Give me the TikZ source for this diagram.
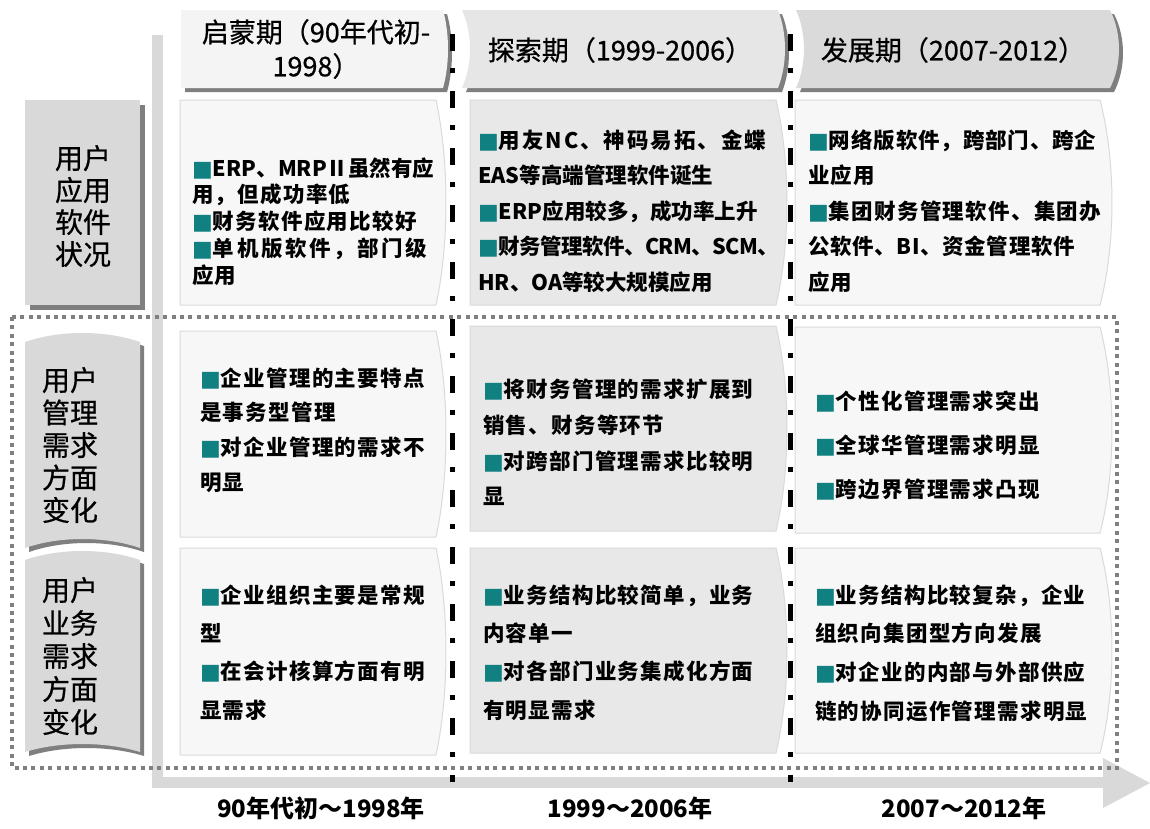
\documentclass[tikz,border=0pt]{standalone}
\usepackage{fontspec}
\newfontfamily\cjk{Noto Sans CJK SC}
\newfontfamily\sym{DejaVu Sans}
\definecolor{hA}{HTML}{F4F4F4}
\definecolor{hB}{HTML}{E6E6E6}
\definecolor{hC}{HTML}{DADADA}
\definecolor{shd}{HTML}{7F7F7F}
\definecolor{cA}{HTML}{F7F7F7}
\definecolor{cB}{HTML}{E8E8E8}
\definecolor{cline}{HTML}{DADADA}
\definecolor{lab}{HTML}{D9D9D9}
\definecolor{axisc}{HTML}{D9D9D9}
\definecolor{dotc}{HTML}{808080}
\definecolor{bul}{HTML}{108080}
% chevron: x1,y1,x2,y2,bulge,notch
\newcommand\chevpath[6]{(#1,#2) -- (#3,#2) .. controls ({#3+1.33*#5},{#2+0.3*(#4-#2)}) and ({#3+1.33*#5},{#4-0.3*(#4-#2)}) .. (#3,#4) -- (#1,#4) .. controls ({#1+1.33*#6},{#4-0.3*(#4-#2)}) and ({#1+1.33*#6},{#2+0.3*(#4-#2)}) .. (#1,#2) -- cycle}
% ribbon: x1,x2,ytop-side,ytop-mid,ybot-side,ybot-mid
\newcommand\ribpath[6]{(#1,#3) .. controls ({#1+0.3*(#2-#1)},{#4-(#3-#4)/3}) and ({#2-0.3*(#2-#1)},{#4-(#3-#4)/3}) .. (#2,#3) -- (#2,#5) .. controls ({#2-0.3*(#2-#1)},{#6-(#5-#6)/3}) and ({#1+0.3*(#2-#1)},{#6-(#5-#6)/3}) .. (#1,#5) -- cycle}
\newcommand\bu{{\sym\fontsize{22}{22}\selectfont\color{bul}■}}
\newcommand\nols[1]{{\addfontfeature{LetterSpace=0}#1}}
\newcommand\wls[2]{{\addfontfeature{LetterSpace=#1}#2}}
\tikzset{
  ct/.style={font=\cjk\bfseries\fontsize{21.5}{#1}\selectfont\addfontfeature{LetterSpace=6}, align=left, inner sep=0pt, anchor=west},
  ht/.style={font=\cjk\fontsize{27}{34}\selectfont\addfontfeature{FakeBold=0.6}, align=center, inner sep=0pt},
  lt/.style={font=\cjk\fontsize{28}{#1}\selectfont\addfontfeature{FakeBold=0.6}, align=center, inner sep=0pt},
  bt/.style={font=\cjk\bfseries\fontsize{24}{24}\selectfont, inner sep=0pt},
  cellA/.style={fill=cA, draw=cline, line width=1pt},
  cellB/.style={fill=cB, draw=cline, line width=1pt},
  sh/.style={fill=shd, shift={(4,4)}},
  dashdotline/.style={line width=5pt, black, dash pattern=on 17pt off 17pt on 5pt off 18pt},
  dotbox/.style={line width=4pt, dotc, dash pattern=on 4pt off 4.4pt},
}
\begin{document}
\begin{tikzpicture}[x=1pt,y=-1pt]
\useasboundingbox[fill=white] (0,0) rectangle (1150,828);
% axis
\fill[axisc] (152,35) rectangle (163,788);
\fill[axisc] (152,777) rectangle (1104,788);
\fill[axisc] (1103,758) -- (1150,783) -- (1103,808) -- cycle;
% left labels
\fill[shd] (30,105) rectangle (145,310);
\fill[lab] (25,100) rectangle (140,305);
\fill[sh] \ribpath{25}{140}{342}{333}{548}{539};
\fill[lab] \ribpath{25}{140}{342}{333}{548}{539};
\fill[sh] \ribpath{25}{140}{560}{551}{752}{744};
\fill[lab] \ribpath{25}{140}{560}{551}{752}{744};
% headers
\fill[sh] \chevpath{181}{10}{443}{88}{5}{0};
\fill[hA] \chevpath{181}{10}{443}{88}{5}{0};
\fill[sh] \chevpath{462}{10}{778}{88}{7}{8};
\fill[hB] \chevpath{462}{10}{778}{88}{7}{8};
\fill[sh] \chevpath{796}{10}{1110}{88}{9}{8};
\fill[hC] \chevpath{796}{10}{1110}{88}{9}{8};
% cells
\path[cellA] \chevpath{180}{100}{436}{305}{10}{0};
\path[cellB] \chevpath{470}{100}{776}{305}{11}{0};
\path[cellA] \chevpath{795}{100}{1100}{305}{12}{0};
\path[cellA] \chevpath{180}{331}{436}{537}{10}{0};
\path[cellB] \chevpath{470}{326}{776}{531}{11}{0};
\path[cellA] \chevpath{795}{327}{1100}{533}{12}{0};
\path[cellA] \chevpath{180}{548}{436}{755}{10}{0};
\path[cellB] \chevpath{470}{548}{776}{753}{11}{0};
\path[cellA] \chevpath{795}{548}{1100}{753}{12}{0};
% dotted frame
\draw[dotbox] (12,317) rectangle (1117,768);
% dash-dot separators
\coordinate (s1t) at (452,34);
\coordinate (s1b) at (452,782);
\coordinate (s2t) at (790,34);
\coordinate (s2b) at (790,782);
\draw[dashdotline] (s1t) -- (s1b);
\draw[dashdotline] (s2t) -- (s2b);
% header texts
\node[ht] (h1) at (316,49) {启蒙期（90年代初-\\1998）};
\node[ht] (h2) at (620,50) {探索期（1999-2006）};
\node[ht] (h3) at (953,50) {发展期（2007-2012）};
% label texts
\node[lt=32] (l1) at (83,206) {用户\\应用\\软件\\状况};
\node[lt=32.5] (l2) at (70,445) {用户\\管理\\需求\\方面\\变化};
\node[lt=33] (l3) at (70,656) {用户\\业务\\需求\\方面\\变化};
% cell texts
\node[ct=26.8] (t11) at (192,221.5) {\bu \wls{0}{ERP、MRPⅡ虽然有应}\\用，但成功率低\\\bu 财务软件应用比较好\\\bu \wls{12}{单机版软件，部门级}\\应用};
\node[ct=35.5] (t12) at (478,211) {\bu \wls{9}{用友NC、神码易拓、金蝶}\\\nols{EAS等高端管理软件诞生}\\\bu \nols{ERP应用较多，成功率上升}\\\bu \wls{-3}{财务管理软件、CRM、SCM、}\\\nols{HR、OA等较大规模应用}};
\node[ct=35.5] (t13) at (808,211) {\bu \wls{4}{网络版软件，跨部门、跨企}\\业应用\\\bu 集团财务管理软件、集团办\\\wls{3}{公软件、BI、资金管理软件}\\应用};
\node[ct=34.7] (t21) at (200,430) {\bu 企业管理的主要特点\\是事务型管理\\\bu 对企业管理的需求不\\明显};
\node[ct=35.7] (t22) at (483,442.5) {\bu 将财务管理的需求扩展到\\销售、财务等环节\\\bu 对跨部门管理需求比较明\\显};
\node[ct=44] (t23) at (815,446) {\bu 个性化管理需求突出\\\bu 全球华管理需求明显\\\bu 跨边界管理需求凸现};
\node[ct=38.3] (t31) at (200,652.5) {\bu 企业组织主要是常规\\型\\\bu 在会计核算方面有明\\显需求};
\node[ct=38.3] (t32) at (483,652.5) {\bu 业务结构比较简单，业务\\内容单一\\\bu 对各部门业务集成化方面\\有明显需求};
\node[ct=38.7] (t33) at (815,653) {\bu 业务结构比较复杂，企业\\组织向集团型方向发展\\\bu 对企业的内部与外部供应\\链的协同运作管理需求明显};
% bottom labels
\node[bt] (b1) at (321,808) {90年代初～1998年};
\node[bt] (b2) at (630,808) {1999～2006年};
\node[bt] (b3) at (964,808) {2007～2012年};
\end{tikzpicture}
\end{document}
